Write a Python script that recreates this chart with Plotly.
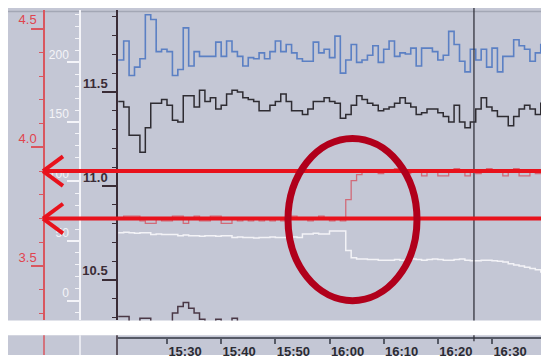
import plotly.graph_objects as go
import pandas as pd

# page body has an 8px margin, so the figure is drawn 8px in from the top-left
OFF = 8
W, H = 549 - OFF, 359 - OFF

# ---------------- data (minutes after 15:00, one sample per minute) ----------------
minutes = list(range(21, 101))

blue_vals = [202, 218, 189, 196, 203, 240, 236, 209, 211, 209,
             189, 194, 229, 197, 209, 205, 205, 205, 217, 205,
             218, 209, 205, 197, 204, 203, 208, 203, 209, 218,
             209, 215, 208, 203, 201, 201, 217, 208, 211, 204,
             222, 191, 202, 215, 200, 202, 206, 214, 200, 211,
             218, 205, 208, 207, 212, 197, 212, 212, 209, 202,
             206, 226, 215, 201, 192, 211, 202, 211, 196, 212,
             192, 205, 205, 219, 214, 211, 201, 208, 215, 208]

black_vals = [11.45, 11.42, 11.27, 11.27, 11.18, 11.31, 11.44, 11.44, 11.46, 11.43,
              11.35, 11.34, 11.48, 11.48, 11.42, 11.51, 11.45, 11.47, 11.41, 11.43,
              11.49, 11.51, 11.50, 11.47, 11.46, 11.45, 11.40, 11.40, 11.43, 11.45,
              11.49, 11.45, 11.40, 11.40, 11.38, 11.41, 11.45, 11.45, 11.47, 11.45,
              11.44, 11.36, 11.38, 11.43, 11.48, 11.46, 11.44, 11.43, 11.40, 11.41,
              11.42, 11.44, 11.47, 11.44, 11.42, 11.38, 11.39, 11.41, 11.41, 11.39,
              11.37, 11.34, 11.43, 11.34, 11.31, 11.34, 11.41, 11.47, 11.42, 11.40,
              11.37, 11.37, 11.32, 11.37, 11.41, 11.43, 11.41, 11.38, 11.44, 11.47]

red_vals = [3.70, 3.71, 3.71, 3.71, 3.69, 3.68, 3.68, 3.70, 3.69, 3.69,
            3.71, 3.71, 3.68, 3.70, 3.71, 3.69, 3.69, 3.71, 3.71, 3.68,
            3.68, 3.70, 3.69, 3.70, 3.69, 3.70, 3.69, 3.70, 3.69, 3.70,
            3.69, 3.71, 3.71, 3.70, 3.70, 3.69, 3.70, 3.71, 3.70, 3.69,
            3.70, 3.69, 3.78, 3.86, 3.885, 3.90, 3.90, 3.90, 3.89, 3.90,
            3.90, 3.91, 3.90, 3.89, 3.90, 3.90, 3.88, 3.90, 3.90, 3.88,
            3.88, 3.90, 3.91, 3.90, 3.88, 3.90, 3.89, 3.90, 3.91, 3.90,
            3.90, 3.88, 3.90, 3.91, 3.88, 3.88, 3.90, 3.89, 3.90, 3.89]

white_vals = [57, 57.5, 57, 56.5, 57, 57, 55.5, 56, 55.5, 55.5,
              55.5, 54.5, 55, 54.5, 54.5, 54, 54.5, 54.5, 54, 54.5,
              54.5, 53, 53.5, 53, 53, 52.5, 53, 53, 53.5, 53,
              53, 53, 53.5, 53, 56, 56, 56.5, 56, 56, 58.5,
              58.5, 58.5, 42, 36, 35, 35, 34.5, 34.5, 34, 34,
              34, 34.5, 34, 34, 35, 34.5, 34, 34.5, 35, 34.5,
              34, 34, 34.5, 35, 34, 33.5, 33.5, 34, 34, 33.5,
              33, 32.5, 31, 30, 29, 28, 27, 26, 24, 23]

bottom_minutes = list(range(21, 46))
bottom_vals = [10.305, 10.305, 10.25, 10.25, 10.296, 10.296, 10.25, 10.25, 10.25, 10.25,
               10.323, 10.358, 10.379, 10.349, 10.323, 10.291, 10.25, 10.25, 10.29, 10.25,
               10.25, 10.296, 10.25, 10.25, 10.25]

red_ticks = [3.5, 4.0, 4.5]
white_ticks = [0, 50, 100, 150, 200]
dark_ticks = [10.5, 11.0, 11.5]
time_ticks = ["15:30", "15:40", "15:50", "16:00", "16:10", "16:20", "16:30"]

cursor_minute = 86.67
arrow_levels = [3.9, 3.7]

# ---------------- helpers ----------------
base = pd.Timestamp("2000-01-01 15:00")
def tm(m):
    return base + pd.Timedelta(minutes=m)

times = [tm(m) for m in minutes]
btimes = [tm(m) for m in bottom_minutes]

def px(x):  # screen x -> paper
    return max(0.0, min(1.0, (x - OFF) / W))

def py(y):  # screen y -> paper
    return max(0.0, min(1.0, 1 - (y - OFF) / H))

TOP, BOT = 10, 324
def yrange(v1, p1, v2, p2):
    k = (v1 - v2) / (p2 - p1)
    return [v1 + (p1 - BOT) * k, v1 + (p1 - TOP) * k]

red_rng = yrange(4.5, 29, 3.5, 269)
white_rng = yrange(200, 63, 0, 304)
dark_rng = yrange(11.5, 93, 10.5, 283)

ppm = (492 - 167) / 60.0
x_start = tm(30 - (167 - 118) / ppm)
x_end = tm(90 + (549 - 492) / ppm)

FONT = "Liberation Sans, Arial, sans-serif"
BG = "#c4c7d5"
RED_AX = "#d9575f"
DARK = "#3a2c36"
WHITE_AX = "#f4f4f8"

fig = go.Figure()
fig.add_trace(go.Scatter(x=times, y=red_vals, yaxis="y", mode="lines", line_shape="hv",
                         line=dict(color="rgba(212,90,104,0.85)", width=1.3), showlegend=False))
fig.add_trace(go.Scatter(x=times, y=white_vals, yaxis="y2", mode="lines", line_shape="hv",
                         line=dict(color="#f3f3f7", width=1.5), showlegend=False))
fig.add_trace(go.Scatter(x=times, y=blue_vals, yaxis="y2", mode="lines", line_shape="hv",
                         line=dict(color="#5b80c4", width=1.6), showlegend=False))
fig.add_trace(go.Scatter(x=times, y=black_vals, yaxis="y3", mode="lines", line_shape="hv",
                         line=dict(color="#2e2c32", width=1.5), showlegend=False))
fig.add_trace(go.Scatter(x=btimes, y=bottom_vals, yaxis="y3", mode="lines", line_shape="hv",
                         line=dict(color="#4a3846", width=1.5), showlegend=False))

dom = [py(BOT), py(TOP)]

def yax(**kw):
    d = dict(showgrid=False, zeroline=False, anchor="free", side="left",
             showline=True, linewidth=1.5, ticks="outside", tickwidth=1.5)
    d.update(kw)
    return d

shapes = [
    dict(type="rect", xref="paper", yref="paper", x0=px(7), x1=1, y0=py(BOT), y1=1,
         fillcolor=BG, line_width=0, layer="below"),
    dict(type="rect", xref="paper", yref="paper", x0=px(7), x1=1, y0=0, y1=py(339),
         fillcolor=BG, line_width=0, layer="below"),
    dict(type="line", xref="paper", yref="paper", x0=px(7), x1=1, y0=py(11.5), y1=py(11.5),
         line=dict(color="#a3a7b5", width=1.5), layer="below"),
    # axis continuations in bottom strip
    dict(type="line", xref="paper", yref="paper", x0=px(44), x1=px(44), y0=0, y1=py(339),
         line=dict(color=RED_AX, width=1.5)),
    dict(type="line", xref="paper", yref="paper", x0=px(80), x1=px(80), y0=0, y1=py(339),
         line=dict(color=WHITE_AX, width=1.5)),
    dict(type="line", xref="paper", yref="paper", x0=px(117), x1=px(117), y0=0, y1=py(339),
         line=dict(color=DARK, width=1.5)),
    # cursor
    dict(type="line", xref="x", yref="paper", x0=tm(cursor_minute), x1=tm(cursor_minute),
         y0=py(BOT), y1=1, line=dict(color="#33333d", width=1.3)),
    dict(type="line", xref="x", yref="paper", x0=tm(cursor_minute), x1=tm(cursor_minute),
         y0=py(345), y1=py(339), line=dict(color="#33333d", width=1.3)),
]

ARROW = "#e8121c"
for lv in arrow_levels:
    shapes.append(dict(type="line", xref="paper", yref="y", x0=px(43), x1=1, y0=lv, y1=lv,
                       line=dict(color=ARROW, width=4)))
    dy = 15 / 240.0
    for s in (1, -1):
        shapes.append(dict(type="line", xref="paper", yref="y", x0=px(43), x1=px(63),
                           y0=lv, y1=lv + s * dy, line=dict(color=ARROW, width=4)))

shapes.append(dict(type="circle", xref="paper", yref="paper", x0=px(288), x1=px(417),
                   y0=py(304), y1=py(140), line=dict(color="#b1001b", width=7)))

fig.update_layout(
    width=W, height=H, margin=dict(l=0, r=0, t=0, b=0),
    paper_bgcolor="white", plot_bgcolor="rgba(0,0,0,0)",
    showlegend=False,
    xaxis=dict(domain=[px(118), 1], anchor="free", position=py(342), type="date",
               range=[x_start, x_end], showline=True, linecolor="#565a66", linewidth=1.5,
               ticks="outside", ticklen=5, tickwidth=1.5, tickcolor="#565a66",
               tickvals=[pd.Timestamp("2000-01-01 " + t) for t in time_ticks], ticktext=time_ticks,
               tickfont=dict(family=FONT, size=13, color="#2b2b33", weight="bold"),
               ticklabelshift=18, ticklabelstandoff=-4, showgrid=False, zeroline=False),
    yaxis=yax(domain=dom, position=px(44), range=red_rng, linecolor=RED_AX,
              tickcolor=RED_AX, ticklen=12, tickvals=red_ticks, tickformat=".1f",
              tickfont=dict(family=FONT, size=13, color="#e0444e"),
              minor=dict(dtick=0.1, tick0=3.5, ticklen=4, tickcolor=RED_AX, ticks="outside", tickwidth=1),
              ticklabelshift=-9, ticklabelstandoff=-8),
    yaxis2=yax(overlaying="y", position=px(80), range=white_rng, linecolor=WHITE_AX,
               tickcolor=WHITE_AX, ticklen=12, tickvals=white_ticks,
               tickfont=dict(family=FONT, size=12, color=WHITE_AX),
               minor=dict(dtick=10, tick0=0, ticklen=4, tickcolor=WHITE_AX, ticks="outside", tickwidth=1),
               ticklabelshift=-8, ticklabelstandoff=-4),
    yaxis3=yax(overlaying="y", position=px(117), range=dark_rng, linecolor=DARK,
               tickcolor=DARK, ticklen=14, tickvals=dark_ticks, tickformat=".1f",
               tickfont=dict(family=FONT, size=13, color=DARK, weight="bold"),
               minor=dict(dtick=0.1, tick0=10.5, ticklen=4, tickcolor=DARK, ticks="outside", tickwidth=1),
               ticklabelshift=-9, ticklabelstandoff=-8),
    yaxis4=yax(overlaying="y", position=0, range=red_rng, linecolor="#3a3a40",
               tickcolor="#3a3a40", ticks="inside", ticklen=3, dtick=0.1, tick0=3.5,
               showticklabels=False, linewidth=1.2),
    shapes=shapes,
)

fig.write_html("out.html")
